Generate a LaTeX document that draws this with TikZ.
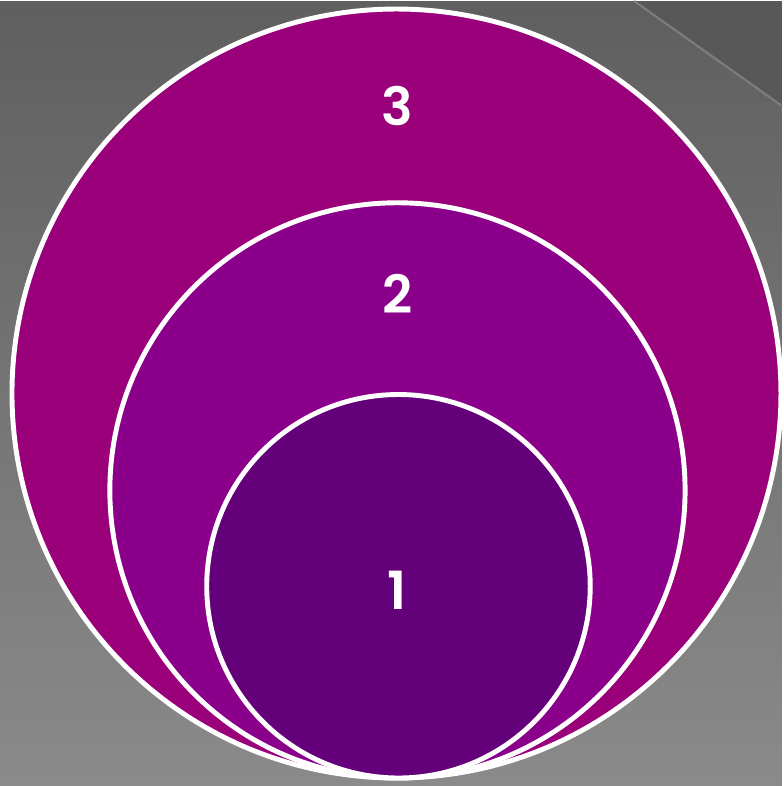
\documentclass[tikz,border=0pt]{standalone}
\usepackage{fontspec}
\newfontfamily\ringfont{Poppins}[BoldFont={Poppins SemiBold}]
\definecolor{bgdark}{RGB}{88,88,88}
\definecolor{bgtop}{RGB}{95,95,95}
\definecolor{bgbottom}{RGB}{138,138,138}
\definecolor{edgeline}{RGB}{125,125,125}
\definecolor{ringthree}{RGB}{153,0,122}
\definecolor{ringtwo}{RGB}{139,0,139}
\definecolor{ringone}{RGB}{99,0,122}
\usetikzlibrary{positioning}

\begin{document}
\begin{tikzpicture}
  \tikzstyle{ring}=[circle,draw=white,line width=1.4pt,inner sep=0pt]
  \tikzstyle{ringlabel}=[text=white,font=\ringfont\bfseries\fontsize{15}{15}\selectfont]

  % background
  \shade[top color=bgtop,bottom color=bgbottom] (0,0) rectangle (7.83,7.86);
  \fill[bgdark] (6.35,7.86) -- (7.83,7.86) -- (7.83,6.81) -- cycle;
  \draw[edgeline,line width=0.6pt] (6.35,7.86) -- (7.83,6.81);
  \useasboundingbox (0,0) rectangle (7.83,7.86);

  \node[ring,fill=ringthree,minimum size=7.70cm] (three) at (3.97,3.93) {};
  \node[ring,fill=ringtwo,minimum size=5.76cm] (two) at (3.98,2.96) {};
  \node[ring,fill=ringone,minimum size=3.84cm] (one) at (3.99,2.00) {};

  \node[ringlabel] (lthree) at (3.98,6.81) {3};
  \node[ringlabel] (ltwo) at (3.98,4.93) {2};
  \node[ringlabel] (lone) at (3.98,1.96) {1};
\end{tikzpicture}
\end{document}
